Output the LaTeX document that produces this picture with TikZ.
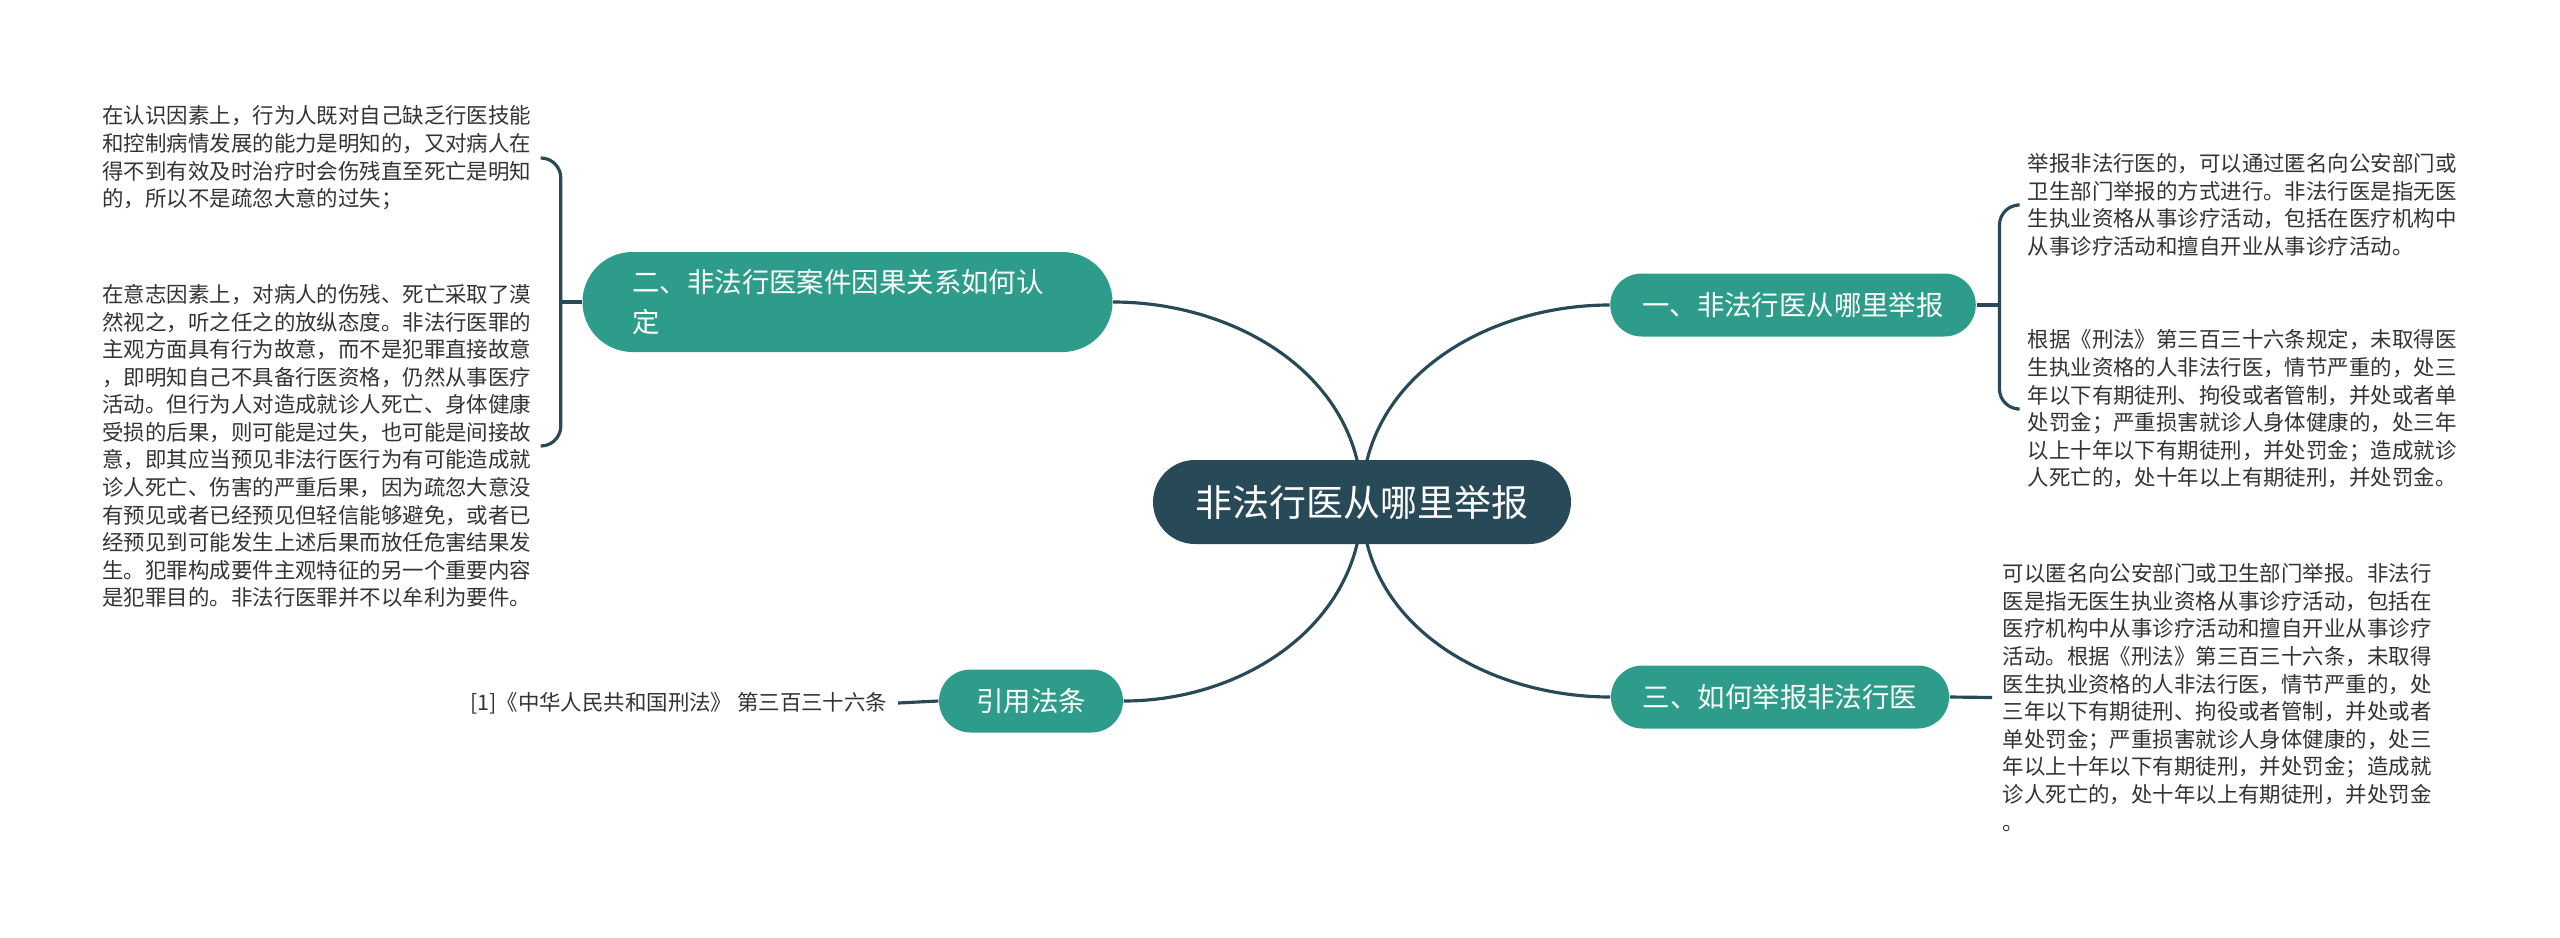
\documentclass[tikz,border=0pt]{standalone}
\usepackage{fontspec}
\setmainfont{Noto Sans CJK SC}
\usetikzlibrary{backgrounds}
\definecolor{rootblue}{HTML}{284957}
\definecolor{branchgreen}{HTML}{2E9C8A}
\definecolor{leafink}{HTML}{333333}

\begin{document}
\begin{tikzpicture}[
    root/.style={fill=rootblue, text=white, rounded corners=0.42cm, minimum width=4.18cm, minimum height=0.84cm, font=\fontsize{10.5}{12}\selectfont},
    branch/.style={fill=branchgreen, text=white, rounded corners=0.315cm, minimum height=0.63cm, inner xsep=0.32cm, font=\fontsize{7.8}{11.4}\selectfont},
    leaf/.style={text=leafink, align=left, inner sep=0.1cm, font=\fontsize{6.1}{7.85}\selectfont},
    conn/.style={draw=rootblue, line width=0.9pt}
]
    % 画布大小
    \useasboundingbox (0,0) rectangle (25.6,9.37);

    % 中心主题
    \node[root] (root) at (13.62,4.35) {非法行医从哪里举报};

    % 四个分支
    \node[branch] (b1) at (17.93,6.32) {一、非法行医从哪里举报};
    \node[branch, text width=4.3cm, align=left, inner xsep=0.5cm, minimum height=1.0cm, rounded corners=0.5cm] (b2) at (8.475,6.35) {二、非法行医案件因果关系如何认\\定};
    \node[branch] (b3) at (17.80,2.40) {三、如何举报非法行医};
    \node[branch, minimum width=1.84cm] (b4) at (10.31,2.36) {引用法条};

    % 右侧说明文字
    \node[leaf, anchor=west] (r1) at (20.17,7.32) {举报非法行医的，可以通过匿名向公安部门或\\卫生部门举报的方式进行。非法行医是指无医\\生执业资格从事诊疗活动，包括在医疗机构中\\从事诊疗活动和擅自开业从事诊疗活动。};
    \node[leaf, anchor=west] (r2) at (20.17,5.28) {根据《刑法》第三百三十六条规定，未取得医\\生执业资格的人非法行医，情节严重的，处三\\年以下有期徒刑、拘役或者管制，并处或者单\\处罚金；严重损害就诊人身体健康的，处三年\\以上十年以下有期徒刑，并处罚金；造成就诊\\人死亡的，处十年以上有期徒刑，并处罚金。};
    \node[leaf, anchor=west] (r3) at (19.92,2.395) {可以匿名向公安部门或卫生部门举报。非法行\\医是指无医生执业资格从事诊疗活动，包括在\\医疗机构中从事诊疗活动和擅自开业从事诊疗\\活动。根据《刑法》第三百三十六条，未取得\\医生执业资格的人非法行医，情节严重的，处\\三年以下有期徒刑、拘役或者管制，并处或者\\单处罚金；严重损害就诊人身体健康的，处三\\年以上十年以下有期徒刑，并处罚金；造成就\\诊人死亡的，处十年以上有期徒刑，并处罚金\\。};

    % 左侧说明文字
    \node[leaf, anchor=east] (l1) at (5.42,7.79) {在认识因素上，行为人既对自己缺乏行医技能\\和控制病情发展的能力是明知的，又对病人在\\得不到有效及时治疗时会伤残直至死亡是明知\\的，所以不是疏忽大意的过失；};
    \node[leaf, anchor=east] (l2) at (5.42,4.91) {在意志因素上，对病人的伤残、死亡采取了漠\\然视之，听之任之的放纵态度。非法行医罪的\\主观方面具有行为故意，而不是犯罪直接故意\\，即明知自己不具备行医资格，仍然从事医疗\\活动。但行为人对造成就诊人死亡、身体健康\\受损的后果，则可能是过失，也可能是间接故\\意，即其应当预见非法行医行为有可能造成就\\诊人死亡、伤害的严重后果，因为疏忽大意没\\有预见或者已经预见但轻信能够避免，或者已\\经预见到可能发生上述后果而放任危害结果发\\生。犯罪构成要件主观特征的另一个重要内容\\是犯罪目的。非法行医罪并不以牟利为要件。};
    \node[leaf, anchor=east] (cite) at (8.98,2.34) {[1]《中华人民共和国刑法》 第三百三十六条};

    % 括号的分叉点
    \coordinate (j1) at ([xshift=0.23cm]b1.east);
    \coordinate (j2) at ([xshift=-0.21cm]b2.west);

    % 连线放在底层
    \begin{scope}[on background layer]
        \draw[conn] (root.center) to[out=90, in=180] (b1.west);
        \draw[conn] (root.center) to[out=90, in=0] (b2.east);
        \draw[conn] (root.center) to[out=-90, in=180] (b3.west);
        \draw[conn] (root.center) to[out=-90, in=0] (b4.east);
    \end{scope}

    \draw[conn] (b1.east) -- (j1);
    \draw[conn, rounded corners=0.2cm] (j1) |- (r1.west);
    \draw[conn, rounded corners=0.2cm] (j1) |- (r2.west);
    \draw[conn] (b2.west) -- (j2);
    \draw[conn, rounded corners=0.2cm] (j2) |- (l1.east);
    \draw[conn, rounded corners=0.2cm] (j2) |- (l2.east);
    \draw[conn] (b3.east) -- (r3.west);
    \draw[conn] (b4.west) -- (cite.east);
\end{tikzpicture}
\end{document}
